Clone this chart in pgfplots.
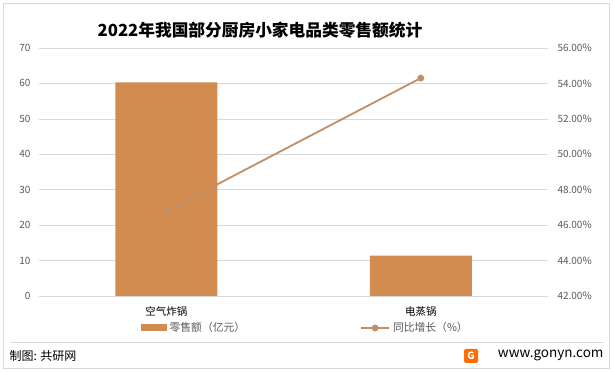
\documentclass[border=0pt]{standalone}
\usepackage{pgfplots}
\pgfplotsset{compat=1.18}
\usepackage{fontspec}
\setmainfont{Noto Sans CJK SC}
\definecolor{barc}{RGB}{211,140,79}
\definecolor{linec}{RGB}{192,143,104}
\definecolor{tickc}{RGB}{89,89,89}
\definecolor{gridc}{RGB}{217,217,217}
\begin{document}
\begin{tikzpicture}
\begin{scope}[x=1pt,y=1pt]
\fill[white] (0,0) rectangle (613,372);
\draw[gridc,line width=0.8pt] (3,4) rectangle (609,369);
\node[font=\bfseries\fontsize{16.7}{19}\selectfont,anchor=center] at (260,342) {2022年我国部分厨房小家电品类零售额统计};
\end{scope}
\begin{axis}[
  at={(39pt,76pt)}, anchor=south west, scale only axis,
  width=509pt, height=248pt,
  xmin=-0.5, xmax=1.5, ymin=0, ymax=70,
  ytick={0,10,...,70},
  xtick={0,1}, xticklabels={空气炸锅,电蒸锅},
  axis y line*=left, axis x line*=bottom,
  y axis line style={draw=none}, x axis line style={gridc, line width=0.8pt},
  major tick length=0pt,
  ymajorgrids, grid style={gridc, line width=0.6pt},
  tick label style={font=\fontsize{10}{12}\selectfont},
  yticklabel style={tickc, xshift=-5pt},
  xticklabel style={black, font=\fontsize{10.5}{12}\selectfont, yshift=-7pt},
  /pgf/number format/assume math mode=true,
  legend style={at={(0.523,-0.129)}, anchor=center, draw=none, fill=none,
     font=\fontsize{10.8}{12}\selectfont, text=tickc,
     /tikz/every even column/.append style={column sep=113pt},
     /tikz/every odd column/.append style={column sep=1pt}},
  legend columns=2,
  legend cell align=left,
]
\addplot[ybar, bar width=102pt, fill=barc, draw=none, bar shift=0pt,
  legend image code/.code={\fill[barc] (-2pt,-3.5pt) rectangle (24pt,3.5pt);}] coordinates {(0,60.3) (1,11.4)};
\addlegendentry{零售额（亿元）}
\addlegendimage{linec, line width=1.8pt, mark=*, mark size=2.5pt, mark options={fill=linec},
  legend image code/.code={\draw[linec, line width=1.8pt] (-2pt,0) -- (26pt,0); \fill[linec] (12pt,0) circle (2.5pt);}}
\addlegendentry{同比增长（\%）}
\end{axis}
\begin{axis}[
  at={(39pt,76pt)}, anchor=south west, scale only axis,
  width=509pt, height=248pt,
  xmin=-0.5, xmax=1.5, ymin=42, ymax=56,
  ytick={42,44,...,56},
  axis y line*=right, axis x line=none,
  y axis line style={draw=none},
  major tick length=0pt,
  tick label style={font=\fontsize{10}{12}\selectfont},
  yticklabel style={tickc, xshift=6pt},
  yticklabel={\pgfmathprintnumber[fixed,fixed zerofill,precision=2]{\tick}\%},
  /pgf/number format/assume math mode=true,
]
\addplot[linec, line width=1.8pt, mark=*, mark size=2.5pt, mark options={fill=linec}] coordinates {(0,46.8) (1,54.3)};
\end{axis}
\begin{scope}[x=1pt,y=1pt]
\draw[gridc,line width=0.6pt] (10,30) -- (604,30);
\node[anchor=west,font=\fontsize{12}{14}\selectfont] at (6,16) {制图: 共研网};
\fill[orange!85!red, rounded corners=1.5pt] (464,9) rectangle (478,23);
\node[white,font=\bfseries\fontsize{10}{10}\selectfont] at (471,16) {G};
\node[anchor=east,font=\fontsize{13.5}{15}\selectfont] at (607,17) {www.gonyn.com};
\end{scope}
\end{tikzpicture}
\end{document}
